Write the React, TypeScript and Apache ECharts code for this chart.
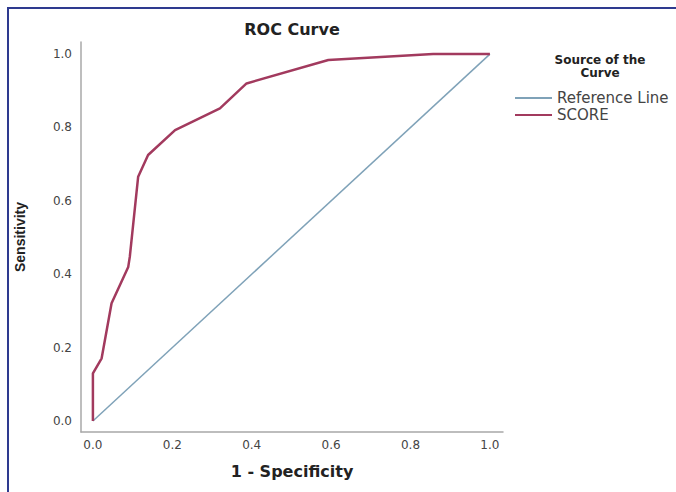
import React, { useEffect, useRef } from "react";
import * as echarts from "echarts";

const chartTitle = "ROC Curve";
const legendTitle = "Source of the\nCurve";
const xAxisName = "1 - Specificity";
const yAxisName = "Sensitivity";
const tickValues = [0, 0.2, 0.4, 0.6, 0.8, 1.0];

const referenceName = "Reference Line";
const referenceX = [0, 1];
const referenceY = [0, 1];

const scoreName = "SCORE";
const scoreFpr = [0, 0, 0.022, 0.047, 0.089, 0.093, 0.114, 0.139, 0.207, 0.32, 0.387, 0.593, 0.857, 1];
const scoreTpr = [0, 0.13, 0.171, 0.321, 0.42, 0.448, 0.666, 0.725, 0.793, 0.852, 0.92, 0.984, 1.0, 1.0];

export default function App() {
  const ref = useRef<HTMLDivElement>(null);

  useEffect(() => {
    document.body.style.margin = "0";
    if (!ref.current) return;
    const chart = echarts.init(ref.current, null, { renderer: "svg" });
    const axisCommon = {
      type: "value",
      min: -0.03,
      max: 1.033,
      splitLine: { show: false },
      axisTick: { show: false },
      axisLine: { show: true, onZero: false, lineStyle: { color: "#a8a8a8", width: 1.5 } },
      nameLocation: "middle",
    };
    chart.setOption({
      animation: false,
      backgroundColor: "#ffffff",
      title: [
        {
          text: chartTitle,
          left: 292,
          top: 21,
          textAlign: "center",
          padding: 0,
          textStyle: { fontFamily: "DejaVu Sans", fontWeight: "bold", fontSize: 16, color: "#222" },
        },
        {
          text: legendTitle,
          left: 600,
          top: 53,
          textAlign: "center",
          padding: 0,
          textStyle: { fontFamily: "DejaVu Sans", fontWeight: "bold", fontSize: 12, lineHeight: 13, color: "#222", align: "center" },
        },
      ],
      legend: {
        orient: "vertical",
        left: 515,
        top: 90,
        padding: 0,
        itemGap: 1,
        itemWidth: 37,
        itemHeight: 2,
        icon: "rect",
        data: [referenceName, scoreName],
        textStyle: { fontFamily: "DejaVu Sans", fontSize: 15, lineHeight: 16, color: "#444" },
      },
      grid: { left: 81, right: 173, top: 42, bottom: 60 },
      xAxis: {
        ...axisCommon,
        name: xAxisName,
        nameGap: 31,
        nameTextStyle: { fontFamily: "DejaVu Sans", fontWeight: "bold", fontSize: 16, color: "#222" },
        axisLabel: {
          customValues: tickValues,
          margin: 7,
          fontFamily: "DejaVu Sans",
          fontSize: 12,
          color: "#444",
          formatter: (v: number) => v.toFixed(1),
        },
      },
      yAxis: {
        ...axisCommon,
        name: yAxisName,
        nameGap: 54,
        nameRotate: 90,
        nameTextStyle: { fontFamily: "Liberation Sans", fontWeight: "bold", fontSize: 14, color: "#222" },
        axisLabel: {
          customValues: tickValues,
          margin: 9,
          fontFamily: "DejaVu Sans",
          fontSize: 12,
          color: "#444",
          formatter: (v: number) => v.toFixed(1),
        },
      },
      series: [
        {
          name: referenceName,
          type: "line",
          symbol: "none",
          data: referenceX.map((x, i) => [x, referenceY[i]]),
          lineStyle: { color: "#7fa2b8", width: 1.5 },
          itemStyle: { color: "#7fa2b8" },
          z: 2,
        },
        {
          name: scoreName,
          type: "line",
          symbol: "none",
          data: scoreFpr.map((x, i) => [x, scoreTpr[i]]),
          lineStyle: { color: "#a23a5e", width: 2.5 },
          itemStyle: { color: "#a23a5e" },
          z: 3,
        },
      ],
      graphic: [
        {
          type: "rect",
          shape: { x: 8, y: 8, width: 800, height: 600 },
          style: { fill: "none", stroke: "#2e3a8f", lineWidth: 2 },
          silent: true,
        },
      ],
    });
    return () => chart.dispose();
  }, []);

  return <div ref={ref} style={{ width: 676, height: 492 }} />;
}
